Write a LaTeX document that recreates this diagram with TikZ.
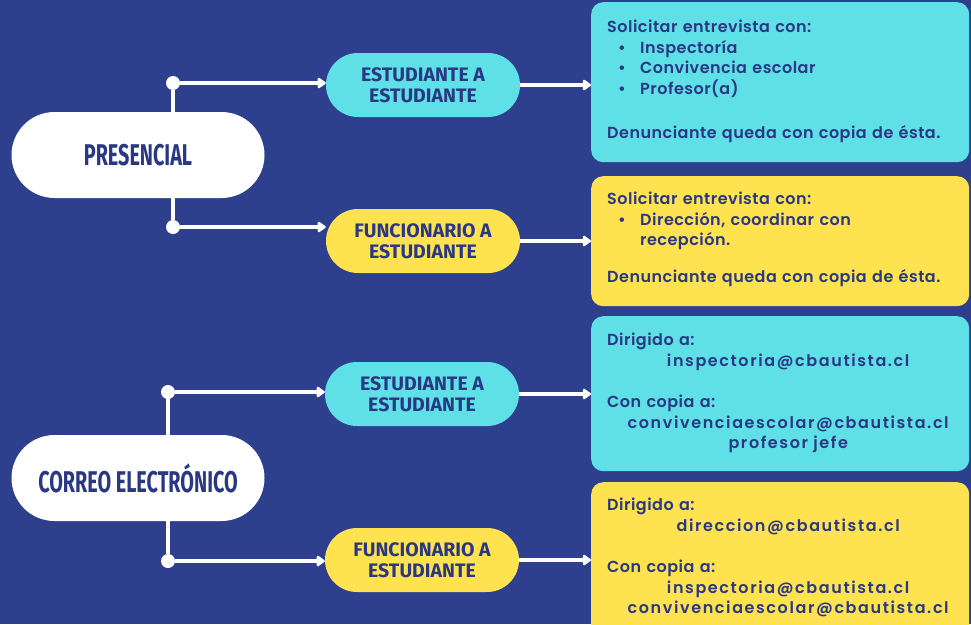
\documentclass[tikz,border=0pt]{standalone}
\usepackage{fontspec}
\setmainfont{Poppins}[BoldFont={Poppins SemiBold}, LetterSpace=3]
\newfontfamily\headfont[FakeStretch=0.66]{Fira Sans}
\newfontfamily\pillfont{Fira Sans}
\usetikzlibrary{positioning, calc, arrows.meta}

\definecolor{navy}{RGB}{45,63,141}
\definecolor{ink}{RGB}{42,56,132}
\definecolor{sky}{RGB}{94,224,230}
\definecolor{sun}{RGB}{255,226,80}

\newcommand\itm[1]{\hspace*{11pt}\makebox[22pt][l]{•}#1}
\newcommand\midline[1]{\makebox[362pt]{\addfontfeature{LetterSpace=10}#1}}

\tikzset{
    bigpill/.style={fill=white, rounded corners=43pt, minimum width=253pt,
        minimum height=86pt, text=ink,
        font=\headfont\bfseries\fontsize{30}{30}\selectfont}, % white pill on the left
    smallpill/.style={rounded corners=32pt, minimum width=194pt,
        minimum height=64pt, align=center, text=ink,
        font=\pillfont\bfseries\fontsize{19.5}{21.5}\selectfont},
    infobox/.style={rounded corners=12pt, minimum width=378pt, anchor=north west},
    infotext/.style={align=left, text width=362pt, inner sep=0pt, text=ink,
        font=\bfseries\fontsize{16}{20.5}\selectfont},
    dot/.style={circle, fill=white, inner sep=0pt, minimum size=14pt},
    link/.style={draw=white, line width=3.8pt},
    pointer/.style={-{Triangle[length=9pt, width=12pt, round]}}, % arrow head into a node
}

\begin{document}
\begin{tikzpicture}[x=1pt, y=-1pt]
        \fill[navy] (0, 0) rectangle (971, 624);
        \useasboundingbox (0, 0) rectangle (971, 624);
        \begin{scope}
            \node[bigpill] (pres) at (138, 155) {PRESENCIAL};
            \node[smallpill, fill=sky] (pe) at (423, 85) {ESTUDIANTE A\\ESTUDIANTE};
            \node[smallpill, fill=sun] (pf) at (423, 241) {FUNCIONARIO A\\ESTUDIANTE};
            \node[dot] (pd1) at (173, 83) {};
            \node[dot] (pd2) at (173, 227) {};
            \draw[link] (pd1) -- (pd1 |- pres.north);
            \draw[link] (pd2) -- (pd2 |- pres.south);
            \draw[link, pointer] (pd1) -- (pd1 -| pe.west);
            \draw[link, pointer] (pd2) -- (pd2 -| pf.west);
            \node[infobox, fill=sky, minimum height=160pt] (b1) at (591, 2) {};
            \node[infobox, fill=sun, minimum height=130pt] (b2) at (591, 176) {};
            \draw[link, pointer] (pe.east) -- (pe.east -| b1.west);
            \draw[link, pointer] (pf.east) -- (pf.east -| b2.west);
            \node[infotext, below right=18pt and 16pt of b1.north west] (t1) {
                Solicitar entrevista con:\\
                \itm{Inspectoría}\\
                \itm{Convivencia escolar}\\
                \itm{Profesor(a)}\\[24pt]
                Denunciante queda con copia de ésta.};
            \node[infotext, below right=16pt and 16pt of b2.north west] (t2) {
                Solicitar entrevista con:\\
                \itm{Dirección, coordinar con}\\
                \hspace*{33pt}recepción.\\[16pt]
                Denunciante queda con copia de ésta.};
        \end{scope}
        \begin{scope}
            \node[bigpill] (corr) at (138, 478) {CORREO ELECTRÓNICO};
            \node[smallpill, fill=sky] (ce) at (422, 394) {ESTUDIANTE A\\ESTUDIANTE};
            \node[smallpill, fill=sun] (cf) at (422, 560) {FUNCIONARIO A\\ESTUDIANTE};
            \node[dot] (cd1) at (168, 392) {};
            \node[dot] (cd2) at (168, 561) {};
            \draw[link] (cd1) -- (cd1 |- corr.north);
            \draw[link] (cd2) -- (cd2 |- corr.south);
            \draw[link, pointer] (cd1) -- (cd1 -| ce.west);
            \draw[link, pointer] (cd2) -- (cd2 -| cf.west);
            \node[infobox, fill=sky, minimum height=155pt] (b3) at (591, 316) {};
            \node[infobox, fill=sun, minimum height=160pt] (b4) at (591, 482) {};
            \draw[link, pointer] (ce.east) -- (ce.east -| b3.west);
            \draw[link, pointer] (cf.east) -- (cf.east -| b4.west);
            \node[infotext, below right=17pt and 16pt of b3.north west] (t3) {
                Dirigido a:\\
                \midline{inspectoria@cbautista.cl}\\[21pt]
                Con copia a:\\
                \midline{convivenciaescolar@cbautista.cl}\\
                \midline{profesor jefe}};
            \node[infotext, below right=16pt and 16pt of b4.north west] (t4) {
                Dirigido a:\\
                \midline{direccion@cbautista.cl}\\[21pt]
                Con copia a:\\
                \midline{inspectoria@cbautista.cl}\\
                \midline{convivenciaescolar@cbautista.cl}};
        \end{scope}
    \end{tikzpicture}
\end{document}
